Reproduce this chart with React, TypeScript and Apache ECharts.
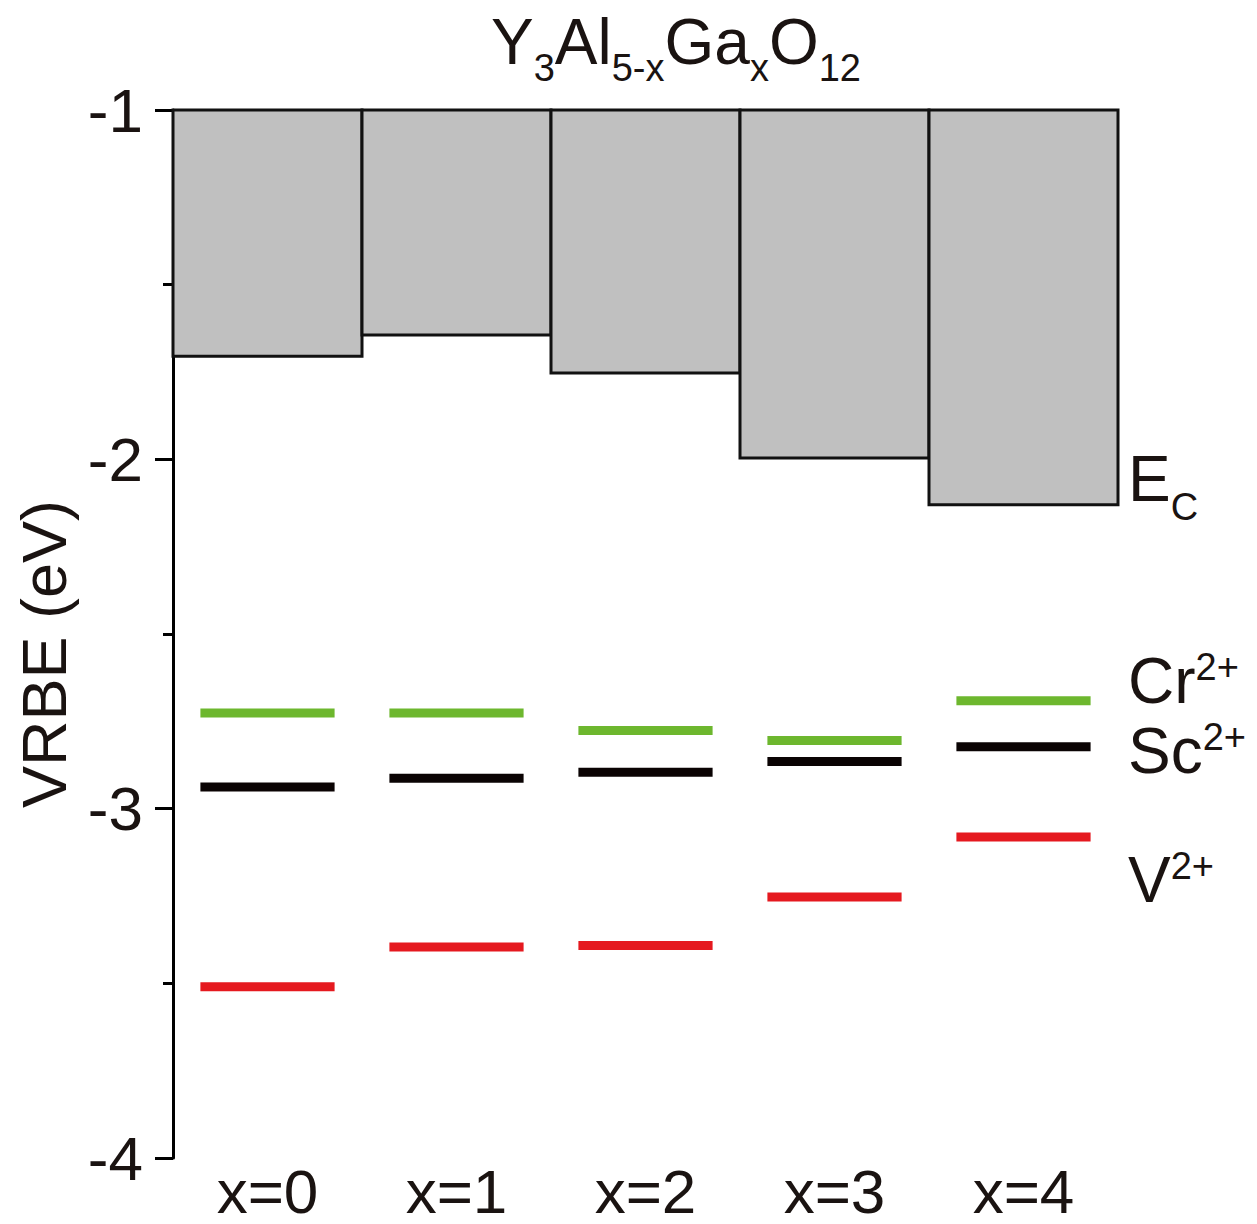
import React, { useEffect, useRef } from "react";
import * as echarts from "echarts";

const categories = ["x=0", "x=1", "x=2", "x=3", "x=4"];
const ecLevels = [-1.705, -1.644, -1.753, -1.996, -2.130];
const crLevels = [-2.726, -2.726, -2.776, -2.805, -2.691];
const scLevels = [-2.938, -2.913, -2.896, -2.865, -2.823];
const vLevels = [-3.510, -3.396, -3.392, -3.253, -3.081];
const yTicks = { min: -4, max: -1, interval: 1 };

const FONT = "Liberation Sans, Arial, sans-serif";
const TXT = "#1a1311";

function levelSeries(name: string, values: number[], color: string) {
  return {
    type: "custom",
    name,
    data: values.map((v, i) => [i, v]),
    renderItem: (params: any, api: any) => {
      const c = api.coord([api.value(0), api.value(1)]);
      const w = api.size([1, 0])[0];
      const half = w * 0.355;
      return {
        type: "line",
        shape: { x1: c[0] - half, y1: c[1], x2: c[0] + half, y2: c[1] },
        style: { stroke: color, lineWidth: 9 },
      };
    },
    z: 3,
  };
}

const supRich = { fontFamily: FONT, fontSize: 38, fill: TXT, verticalAlign: "top", lineHeight: 38 };

export default function App() {
  const ref = useRef<HTMLDivElement>(null);
  useEffect(() => {
    document.body.style.margin = "0";
    const chart = echarts.init(ref.current!, null, { renderer: "svg" });
    chart.setOption({
      animation: false,
      backgroundColor: "#ffffff",
      textStyle: { fontFamily: FONT },
      title: {
        text: "Y{s|3}Al{s|5-x}Ga{s|x}O{s|12}",
        left: 486,
        top: 2,
        textStyle: {
          fontFamily: FONT,
          fontSize: 64,
          fontWeight: "normal",
          color: TXT,
          lineHeight: 70,
          rich: {
            s: { fontFamily: FONT, fontSize: 38, color: TXT, verticalAlign: "top", padding: [42, 0, 0, 0], lineHeight: 38 },
          },
        },
      },
      grid: { left: 173, right: 139, top: 110, bottom: 66 },
      xAxis: {
        type: "category",
        data: categories,
        boundaryGap: true,
        axisLine: { show: false },
        axisTick: { show: false },
        axisLabel: { fontSize: 62, lineHeight: 58, color: TXT, margin: 4, fontFamily: FONT },
        splitLine: { show: false },
      },
      yAxis: {
        type: "value",
        min: yTicks.min,
        max: yTicks.max,
        interval: yTicks.interval,
        name: "VRBE (eV)",
        nameLocation: "middle",
        nameRotate: 90,
        nameGap: 98,
        nameTextStyle: { fontSize: 63, color: TXT, fontFamily: FONT, padding: [0, 40, 0, 0] },
        axisLine: { show: true, lineStyle: { color: "#000", width: 3 } },
        axisTick: { show: true, inside: false, length: 18, lineStyle: { color: "#000", width: 3 } },
        minorTick: { show: true, splitNumber: 2, length: 10, lineStyle: { color: "#000", width: 3 } },
        axisLabel: { fontSize: 62, color: TXT, margin: 30, fontFamily: FONT },
        splitLine: { show: false },
      },
      series: [
        {
          type: "custom",
          name: "Ec",
          data: ecLevels.map((v, i) => [i, v]),
          renderItem: (params: any, api: any) => {
            const i = api.value(0);
            const top = api.coord([i, yTicks.max]);
            const bot = api.coord([i, api.value(1)]);
            const w = api.size([1, 0])[0];
            return {
              type: "rect",
              shape: { x: top[0] - w / 2, y: top[1], width: w, height: bot[1] - top[1] },
              style: { fill: "#c0c0c0", stroke: "#111", lineWidth: 3 },
            };
          },
          z: 2,
        },
        levelSeries("Cr2+", crLevels, "#6db72e"),
        levelSeries("Sc2+", scLevels, "#0a0303"),
        levelSeries("V2+", vLevels, "#e5191f"),
      ],
      graphic: [
        {
          type: "text",
          left: 1128,
          top: 446,
          style: {
            text: "E{s|C}",
            font: `64px ${FONT}`,
            fill: TXT,
            lineHeight: 66,
            rich: { s: { fontFamily: FONT, fontSize: 38, fill: TXT, verticalAlign: "top", padding: [42, 0, 0, 0], lineHeight: 38 } },
          },
        },
        {
          type: "text",
          left: 1128,
          top: 648,
          style: { text: "Cr{p|2+}", font: `64px ${FONT}`, fill: TXT, lineHeight: 66, rich: { p: supRich } },
        },
        {
          type: "text",
          left: 1128,
          top: 718,
          style: { text: "Sc{p|2+}", font: `64px ${FONT}`, fill: TXT, lineHeight: 66, rich: { p: supRich } },
        },
        {
          type: "text",
          left: 1128,
          top: 847,
          style: { text: "V{p|2+}", font: `64px ${FONT}`, fill: TXT, lineHeight: 66, rich: { p: supRich } },
        },
      ],
    });
    return () => chart.dispose();
  }, []);
  return <div ref={ref} style={{ width: 1257, height: 1224 }} />;
}
